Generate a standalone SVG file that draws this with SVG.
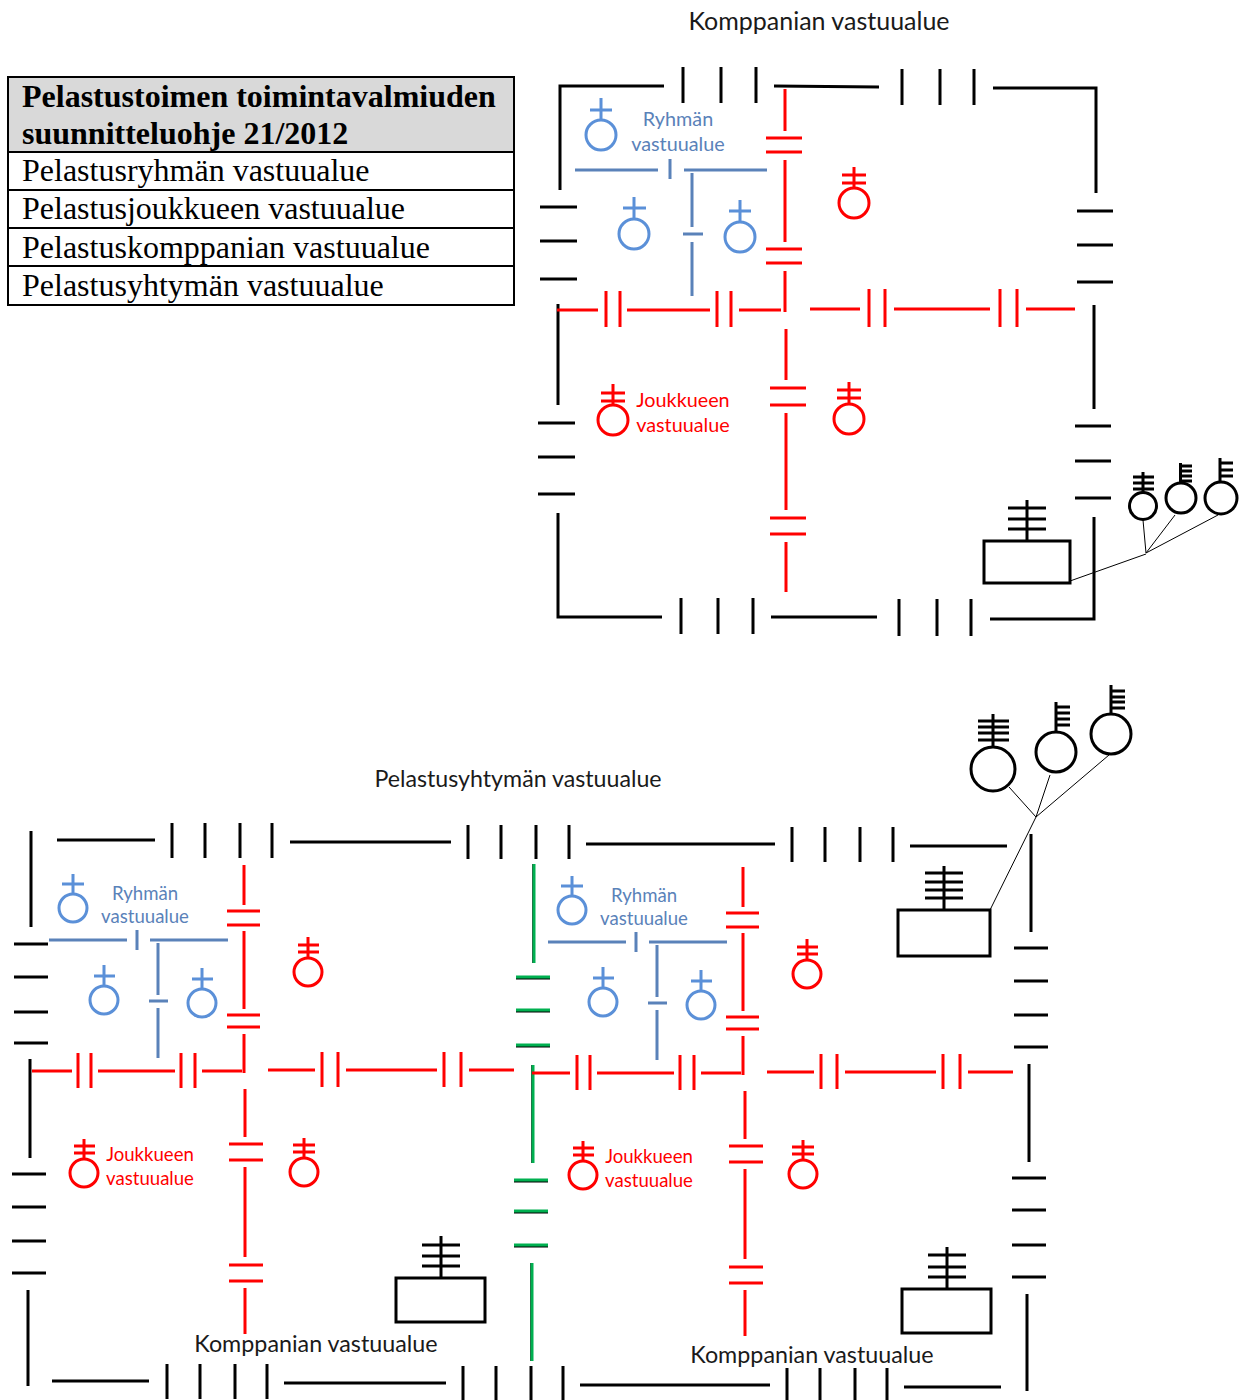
<svg xmlns="http://www.w3.org/2000/svg" width="1245" height="1400" viewBox="0 0 1245 1400">
<style>
path,circle,rect{fill:none;stroke-linecap:butt;stroke-linejoin:miter}
.k{stroke:#000;stroke-width:3}
.r{stroke:#f00;stroke-width:3}
.b{stroke:#5a82b9;stroke-width:3}
.i{stroke:#5b90d8;stroke-width:3}
.g{stroke:#00b050;stroke-width:3}
.u{stroke:#000;stroke-width:3}
.t{stroke:#000;stroke-width:1}
text{font-family:"Lato","Liberation Sans",sans-serif}
.lab{text-anchor:middle;font-size:18.6px}
.labt{text-anchor:middle;font-size:19.8px}
.big{text-anchor:middle;font-size:25px;fill:#1a1a1a}
.bat{text-anchor:middle;font-size:23.2px;fill:#1a1a1a}
.med{text-anchor:middle;font-size:23.3px;fill:#1a1a1a}
.tb{fill:#5a82b9}
.tr{fill:#f00}
.h{font-family:"Liberation Serif",serif;font-size:32px;font-weight:bold;fill:#000}
.c{font-family:"Liberation Serif",serif;font-size:32px;fill:#000}
</style>

<g id="legend">
<rect x="8" y="77" width="506" height="75" style="fill:#d9d9d9;stroke:none"/>
<rect x="8" y="77" width="506" height="228" style="stroke:#000;stroke-width:2"/>
<path d="M8 152H514M8 190H514M8 228H514M8 266H514" style="stroke:#000;stroke-width:2"/>
<text x="22" y="107" class="h">Pelastustoimen toimintavalmiuden</text>
<text x="22" y="144" class="h">suunnitteluohje 21/2012</text>
<text x="22" y="181" class="c">Pelastusryhmän vastuualue</text>
<text x="22" y="219" class="c">Pelastusjoukkueen vastuualue</text>
<text x="22" y="258" class="c">Pelastuskomppanian vastuualue</text>
<text x="22" y="296" class="c">Pelastusyhtymän vastuualue</text>
</g>

<g id="connectors">
<g id="company-top-border">
<path class="k" d="M560 190V86H664M683 67V103M721 67V103M756 67V103M774 86L879 87M902 69V105M940 69V105M974 69V105M993 88H1096V193"/>
<path class="k" d="M1077 211H1113M1077 245H1113M1077 282H1113M1094 305V409M1075 426H1111M1075 461H1111M1075 498H1111M1094 517V619H990M971 599V636M937 599V636M899 599V636M877 617H771M753 598V634M718 598V634M681 598V634M662 617H558V513"/>
<path class="k" d="M538 494H575M538 457H575M538 423H575M558 405V304M540 279H577M540 241H577M540 207H577"/>
</g>
<g id="platoon-top">
<path class="r" d="M785 89V131M766 138H802M766 152H802M785 160V242M766 249H802M766 263H802M785 271V312"/>
<path class="r" d="M557 310H598M606 291V327M620 291V327M627 310H710M717 291V327M731 291V327M739 310H781M810 309H860M869 289V327M885 289V327M894 309H990M1000 289V327M1017 289V327M1026 309H1075"/>
<path class="r" d="M786 329V380M770 388H806M770 405H806M786 413V510M770 518H806M770 534H806M786 542V592"/>
</g>
<path id="squad-top" class="b" d="M575 170H658M670 159V179M684 170H767M692 173V227M683 234H703M692 242V296"/>
<path class="t" d="M1070 581L1146 554M1143 520L1146 553M1175 515L1146 553M1218 515L1146 553"/>

<g id="battalion-border">
<path class="k" d="M57 840H155M172 823V858M205 823V858M240 823V858M272 823V858M290 842H451M468 825V859M501 825V859M536 825V859M569 825V859M586 844H775M792 827V862M825 827V862M860 827V862M893 827V862M910 846H1007"/>
<path class="k" d="M31 831V927M14 944H48M14 977H48M14 1012H48M14 1043H48M30 1059V1158M12 1174H46M12 1207H46M12 1241H46M12 1273H46M28 1290V1386"/>
<path class="k" d="M52 1381H149M167 1364V1399M200 1364V1399M235 1364V1399M267 1364V1399M284 1383H446M463 1366V1400M496 1366V1400M531 1366V1400M563 1366V1400M580 1385H770M787 1368V1400M820 1368V1400M855 1368V1400M887 1368V1400M904 1387H1001"/>
<path class="k" d="M1031 834V932M1014 948H1048M1014 981H1048M1014 1015H1048M1014 1047H1048M1029 1064V1162M1012 1178H1046M1012 1210H1046M1012 1245H1046M1012 1277H1046M1027 1294V1391"/>
</g>
<g id="battalion-divider">
<path class="u" d="M516 978H550M516 1011H550M516 1046H550M514 1181H548M514 1212H548M514 1246H548"/>
<path class="u" style="stroke-width:1.5" d="M533 864V963M532 1065V1163M531 1263V1361"/>
<path class="g" d="M534 864V963M533 1065V1163M532 1263V1361M516 977H550M516 1010H550M516 1045H550M514 1180H548M514 1211H548M514 1245H548"/>
</g>
<g id="platoon-left">
<path class="r" d="M244 865V905M227 911H260M227 925H260M244 931V1009M227 1015H260M227 1027H260M244 1034V1073"/>
<path class="r" d="M32 1071H72M78 1053V1088M91 1053V1088M98 1071H175M181 1053V1088M195 1053V1088M202 1071H242M268 1070H315M322 1052V1087M338 1052V1087M346 1070H437M444 1052V1087M461 1052V1087M469 1070H514"/>
<path class="r" d="M245 1089V1137M229 1144H263M229 1160H263M245 1167V1257M229 1265H263M229 1281H263M245 1288V1334"/>
</g>
<path id="squad-left" class="b" d="M49 940H127M137 930V950M150 940H228M158 943V995M149 1001H168M158 1008V1058"/>
<g id="platoon-right">
<path class="r" d="M743 867V907M726 913H759M726 927H759M743 933V1011M726 1017H759M726 1029H759M743 1036V1075"/>
<path class="r" d="M532 1073H570M577 1055V1090M590 1055V1090M597 1073H674M680 1055V1090M694 1055V1090M701 1073H741M767 1072H814M821 1054V1089M837 1054V1089M845 1072H936M943 1054V1089M960 1054V1089M968 1072H1013"/>
<path class="r" d="M745 1091V1139M729 1146H763M729 1162H763M745 1169V1259M729 1267H763M729 1283H763M745 1290V1336"/>
</g>
<path id="squad-right" class="b" d="M548 942H626M636 932V952M649 942H727M657 945V997M648 1003H667M657 1010V1060"/>
<path class="t" d="M1009 787L1036 817M1050 775L1036 817M1109 755L1036 817M1036 817L990 910"/>
</g>

<text id="label-company-top" x="819" y="30" class="big">Komppanian vastuualue</text>
<g id="label-squad-top"><text x="678" y="125.500" class="labt tb">Ryhmän</text><text x="678" y="150.500" class="labt tb">vastuualue</text></g>
<g id="label-platoon-top"><text x="683" y="406.500" class="labt tr">Joukkueen</text><text x="683" y="431.500" class="labt tr">vastuualue</text></g>
<text id="label-battalion" x="518" y="787" class="bat">Pelastusyhtymän vastuualue</text>
<g id="label-squad-left"><text x="145" y="899.500" class="lab tb">Ryhmän</text><text x="145" y="922.500" class="lab tb">vastuualue</text></g>
<g id="label-platoon-left"><text x="150" y="1160.500" class="lab tr">Joukkueen</text><text x="150" y="1184.500" class="lab tr">vastuualue</text></g>
<g id="label-squad-right"><text x="644" y="901.500" class="lab tb">Ryhmän</text><text x="644" y="924.500" class="lab tb">vastuualue</text></g>
<g id="label-platoon-right"><text x="649" y="1162.500" class="lab tr">Joukkueen</text><text x="649" y="1186.500" class="lab tr">vastuualue</text></g>
<text id="label-company-left" x="316" y="1351.500" class="med">Komppanian vastuualue</text>
<text id="label-company-right" x="812" y="1363" class="med">Komppanian vastuualue</text>

<g id="unit-squad-t1"><circle class="i" cx="601" cy="135" r="15"/><path class="i" d="M601 98V120M590 110H612"/></g>
<g id="unit-squad-t2"><circle class="i" cx="634" cy="234" r="15"/><path class="i" d="M634 197V219M623 208H646"/></g>
<g id="unit-squad-t3"><circle class="i" cx="740" cy="237" r="15"/><path class="i" d="M740 200V222M729 211H751"/></g>
<g id="unit-platoon-t1"><circle class="r" cx="854" cy="203" r="15"/><path class="r" d="M854 167V188M842 175H866M842 183H866"/></g>
<g id="unit-platoon-t2"><circle class="r" cx="613" cy="420" r="15"/><path class="r" d="M613 384V405M601 393H625M601 401H625"/></g>
<g id="unit-platoon-t3"><circle class="r" cx="849" cy="419" r="15"/><path class="r" d="M849 382V404M837 390H861M837 398H861"/></g>

<g id="company-hq-top"><rect class="k" x="984" y="541" width="86" height="42"/><path class="k" d="M1027 500V541M1008 508H1046M1008 519H1046M1008 529H1046"/></g>
<g id="platoon-hq-t1"><circle class="k" cx="1143" cy="506" r="13.5"/><path class="k" d="M1143 472V492M1133 477H1154M1133 483H1154M1133 489H1154"/></g>
<g id="platoon-hq-t2"><circle class="k" cx="1181" cy="498" r="15"/><path class="k" d="M1180.500 463V483M1181 466H1192M1181 471H1192M1181 476H1192M1181 481H1192"/></g>
<g id="platoon-hq-t3"><circle class="k" cx="1221" cy="498" r="16"/><path class="k" d="M1220 458V481M1220 463H1233M1220 470H1233M1220 476H1233"/></g>

<g id="company-hq-right"><rect class="k" x="898" y="910" width="92" height="46"/><path class="k" d="M944 866V910M925 873H963M925 882H963M925 890H963M925 898H963"/></g>
<g id="battalion-hq-1"><circle class="k" cx="993" cy="769" r="22"/><path class="k" d="M993 714V746M978 721H1009M978 727H1009M978 733H1009M978 740H1009"/></g>
<g id="battalion-hq-2"><circle class="k" cx="1056" cy="752" r="20"/><path class="k" d="M1056 702V731M1056 707H1070M1056 713H1070M1056 719H1070M1056 725H1070"/></g>
<g id="battalion-hq-3"><circle class="k" cx="1111" cy="734" r="20"/><path class="k" d="M1111 685V713M1111 691H1125M1111 697H1125M1111 702H1125M1111 708H1125"/></g>

<g id="unit-squad-l1"><circle class="i" cx="73" cy="908" r="14"/><path class="i" d="M73 874V893M62 884H84"/></g>
<g id="unit-squad-l2"><circle class="i" cx="104" cy="1000" r="14"/><path class="i" d="M104 965V985M94 976H115"/></g>
<g id="unit-squad-l3"><circle class="i" cx="202" cy="1003" r="14"/><path class="i" d="M202 968V988M192 979H213"/></g>
<g id="unit-platoon-l1"><circle class="r" cx="308" cy="972" r="14"/><path class="r" d="M308 937V957M298 945H319M298 952H319"/></g>
<g id="unit-platoon-l2"><circle class="r" cx="84" cy="1173" r="14"/><path class="r" d="M84 1139V1158M74 1146H95M74 1153H95"/></g>
<g id="unit-platoon-l3"><circle class="r" cx="304" cy="1172" r="14"/><path class="r" d="M304 1138V1157M293 1145H315M293 1152H315"/></g>

<g id="unit-squad-r1"><circle class="i" cx="572" cy="910" r="14"/><path class="i" d="M572 876V895M561 886H583"/></g>
<g id="unit-squad-r2"><circle class="i" cx="603" cy="1002" r="14"/><path class="i" d="M603 967V987M593 978H614"/></g>
<g id="unit-squad-r3"><circle class="i" cx="701" cy="1005" r="14"/><path class="i" d="M701 970V990M691 981H712"/></g>
<g id="unit-platoon-r1"><circle class="r" cx="807" cy="974" r="14"/><path class="r" d="M807 939V959M797 947H818M797 954H818"/></g>
<g id="unit-platoon-r2"><circle class="r" cx="583" cy="1175" r="14"/><path class="r" d="M583 1141V1160M573 1148H594M573 1155H594"/></g>
<g id="unit-platoon-r3"><circle class="r" cx="803" cy="1174" r="14"/><path class="r" d="M803 1140V1159M792 1147H814M792 1154H814"/></g>

<g id="company-hq-left"><rect class="k" x="396" y="1278" width="89" height="44"/><path class="k" d="M441 1236V1278M422 1245H460M422 1256H460M422 1266H460"/></g>
<g id="company-hq-br"><rect class="k" x="902" y="1289" width="89" height="44"/><path class="k" d="M947 1247V1289M928 1255H966M928 1267H966M928 1277H966"/></g>
</svg>
